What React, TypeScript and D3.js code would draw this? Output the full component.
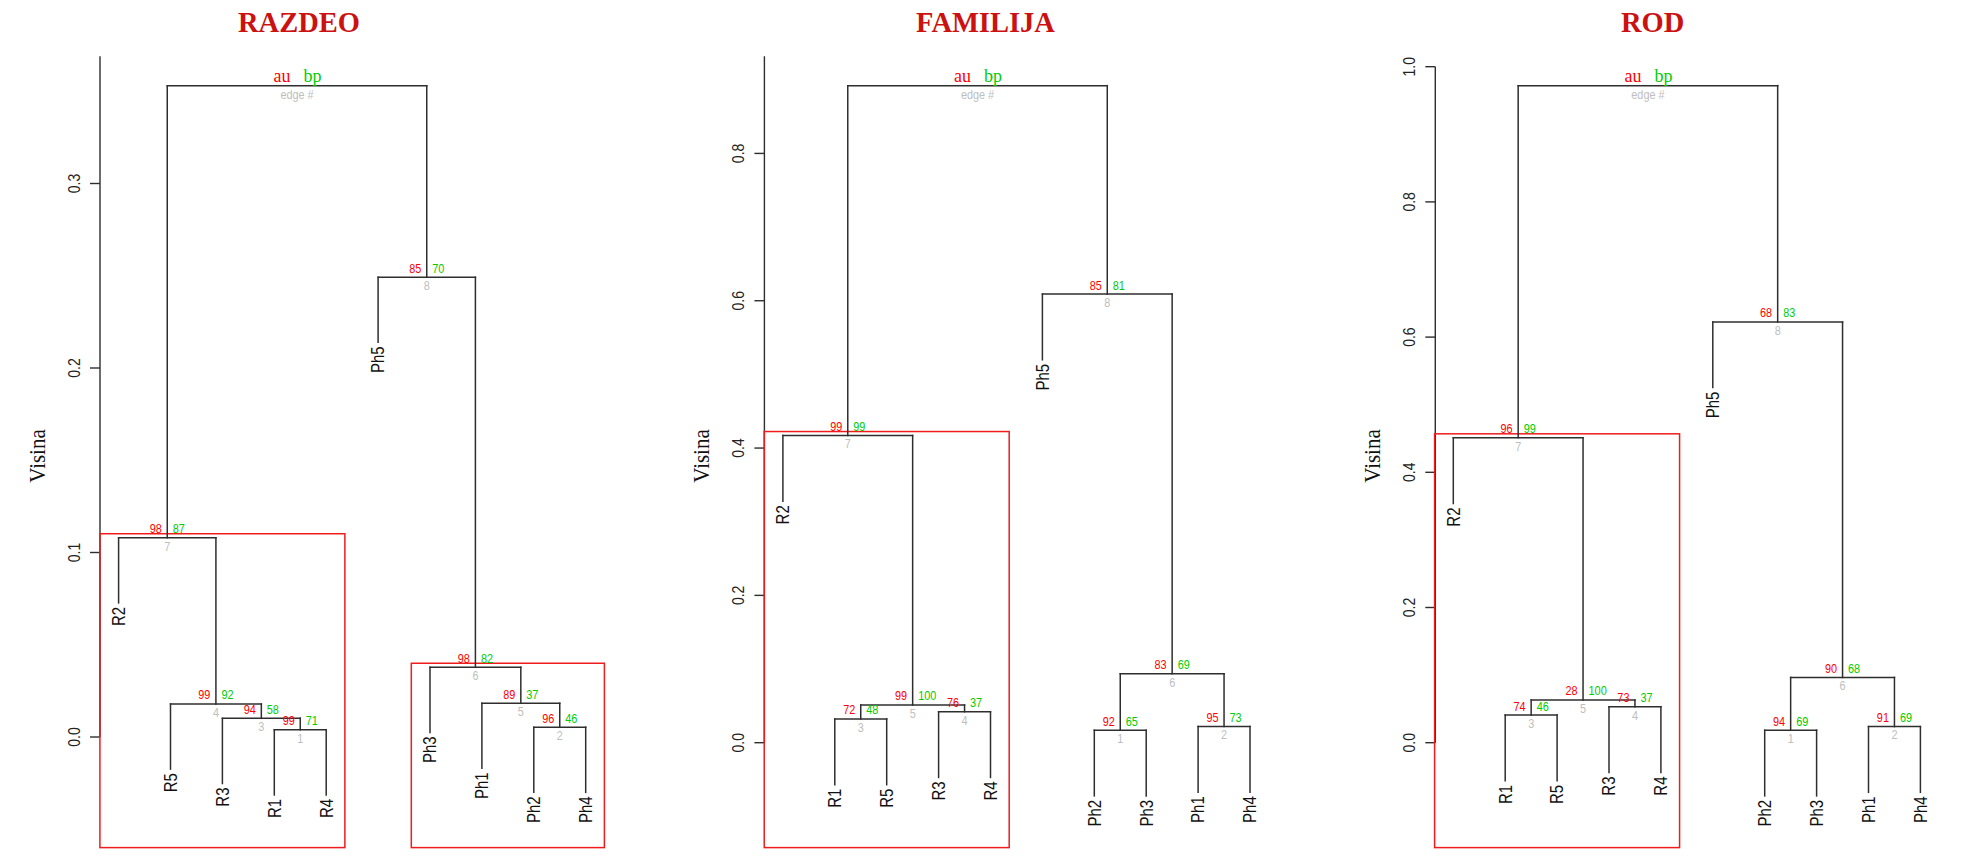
import React from "react";
import * as d3 from "d3";

// ---------- DATA ----------
const titles = ["RAZDEO", "FAMILIJA", "ROD"];

// RAZDEO
const razdeoLeaves = ["R2", "R5", "R3", "R1", "R4", "Ph5", "Ph3", "Ph1", "Ph2", "Ph4"];
const razdeoLeft: (string | number)[] = ["R1", "Ph2", "R3", "R5", "Ph1", "Ph3", "R2", "Ph5", 7];
const razdeoRight: (string | number)[] = ["R4", "Ph4", 1, 3, 2, 5, 4, 6, 8];
const razdeoHeight = [0.0039, 0.0053, 0.0101, 0.0179, 0.0183, 0.0378, 0.108, 0.2492, 0.353];
const razdeoAU = [99, 96, 94, 99, 89, 98, 98, 85];
const razdeoBP = [71, 46, 58, 92, 37, 82, 87, 70];
const razdeoTicks = [0, 0.1, 0.2, 0.3];
const razdeoBoxes = [7, 6];

// FAMILIJA
const familijaLeaves = ["R2", "R1", "R5", "R3", "R4", "Ph5", "Ph2", "Ph3", "Ph1", "Ph4"];
const familijaLeft: (string | number)[] = ["Ph2", "Ph1", "R1", "R3", 3, 1, "R2", "Ph5", 7];
const familijaRight: (string | number)[] = ["Ph3", "Ph4", "R5", "R4", 4, 2, 5, 6, 8];
const familijaHeight = [0.017, 0.0219, 0.0322, 0.042, 0.0512, 0.0935, 0.417, 0.609, 0.892];
const familijaAU = [92, 95, 72, 76, 99, 83, 99, 85];
const familijaBP = [65, 73, 48, 37, 100, 69, 99, 81];
const familijaTicks = [0, 0.2, 0.4, 0.6, 0.8];
const familijaBoxes = [7];

// ROD
const rodLeaves = ["R2", "R1", "R5", "R3", "R4", "Ph5", "Ph2", "Ph3", "Ph1", "Ph4"];
const rodLeft: (string | number)[] = ["Ph2", "Ph1", "R1", "R3", 3, 1, "R2", "Ph5", 7];
const rodRight: (string | number)[] = ["Ph3", "Ph4", "R5", "R4", 4, 2, 5, 6, 8];
const rodHeight = [0.0185, 0.0238, 0.0408, 0.0531, 0.0632, 0.0966, 0.451, 0.6225, 0.972];
const rodAU = [94, 91, 74, 73, 28, 90, 96, 68];
const rodBP = [69, 69, 46, 37, 100, 68, 99, 83];
const rodTicks = [0, 0.2, 0.4, 0.6, 0.8, 1.0];
const rodBoxes = [7];

const axisTopValues = [0.369, 0.932, 1.0];
const yLabel = "Visina";

// ---------- LAYOUT ----------
const layouts = [
  { axisX: 100, leaf0: 118.6, y0: 737, unit: 1845, titleX: 299 },
  { axisX: 764.4, leaf0: 782.9, y0: 742.7, unit: 736.6, titleX: 985.5 },
  { axisX: 1435.3, leaf0: 1453.3, y0: 742.7, unit: 676, titleX: 1652.6 },
];
const leafStep = 51.9;
const plotBottom = 847.6;
const ROT_STRETCH = 1.2;
const NUM_SQUISH = 0.87;

const panels = [
  { leaves: razdeoLeaves, left: razdeoLeft, right: razdeoRight, height: razdeoHeight, au: razdeoAU, bp: razdeoBP, ticks: razdeoTicks, boxes: razdeoBoxes },
  { leaves: familijaLeaves, left: familijaLeft, right: familijaRight, height: familijaHeight, au: familijaAU, bp: familijaBP, ticks: familijaTicks, boxes: familijaBoxes },
  { leaves: rodLeaves, left: rodLeft, right: rodRight, height: rodHeight, au: rodAU, bp: rodBP, ticks: rodTicks, boxes: rodBoxes },
];

const SANS = "'Liberation Sans', Arial, Helvetica, sans-serif";
const SERIF = "'Liberation Serif', 'Times New Roman', serif";
const LINE = "#2e2e2e";
const RED = "#ff0000";
const GREEN = "#00cc00";
const GRAY = "#bebebe";

function Num({ x, y, anchor, fill, children }: any) {
  return (
    <text transform={`translate(${x},${y}) scale(${NUM_SQUISH},1)`} textAnchor={anchor} fill={fill} fontFamily={SANS} fontSize={12.5}>
      {children}
    </text>
  );
}

function Panel({ idx }: { idx: number }) {
  const p = panels[idx];
  const L = layouts[idx];
  const y = d3.scaleLinear().domain([0, 1]).range([L.y0, L.y0 - L.unit]);
  const x = d3.scaleLinear().domain([0, p.leaves.length - 1]).range([L.leaf0, L.leaf0 + (p.leaves.length - 1) * leafStep]);
  const hang = 0.1 * (d3.max(p.height) as number);

  const leafPos: Record<string, number> = {};
  p.leaves.forEach((l, i) => (leafPos[l] = x(i)));
  const leafParentH: Record<string, number> = {};
  const nodeX: number[] = [];
  const nodeSpan: [number, number][] = [];

  const segs: { x1: number; y1: number; x2: number; y2: number }[] = [];
  const getX = (c: string | number) => (typeof c === "number" ? nodeX[c - 1] : leafPos[c]);
  const getSpan = (c: string | number): [number, number] => {
    if (typeof c === "number") return nodeSpan[c - 1];
    const i = p.leaves.indexOf(c);
    return [i, i];
  };

  p.left.forEach((l, i) => {
    const r = p.right[i];
    const h = p.height[i];
    const xl = getX(l);
    const xr = getX(r);
    nodeX[i] = (xl + xr) / 2;
    const sl = getSpan(l), sr = getSpan(r);
    nodeSpan[i] = [Math.min(sl[0], sr[0]), Math.max(sl[1], sr[1])];
    segs.push({ x1: xl, y1: y(h), x2: xr, y2: y(h) });
    [l, r].forEach((c) => {
      const cx = getX(c);
      let ch: number;
      if (typeof c === "number") ch = p.height[c - 1];
      else {
        ch = h - hang;
        leafParentH[c] = h;
      }
      segs.push({ x1: cx, y1: y(h), x2: cx, y2: y(ch) });
    });
  });

  const nRoot = p.height.length;
  const rootX = nodeX[nRoot - 1];
  const rootY = y(p.height[nRoot - 1]);

  return (
    <g>
      <text x={L.titleX} y={31.5} textAnchor="middle" fontFamily={SERIF} fontWeight="bold" fontSize={28.5} fill="#cc1111">
        {titles[idx]}
      </text>
      {/* axis */}
      <line x1={L.axisX} x2={L.axisX} y1={y(0)} y2={y(axisTopValues[idx])} stroke={LINE} strokeWidth={1.4} />
      {p.ticks.map((t) => (
        <g key={t}>
          <line x1={L.axisX - 10} x2={L.axisX} y1={y(t)} y2={y(t)} stroke={LINE} strokeWidth={1.4} />
          <text transform={`translate(${L.axisX - 20},${y(t)}) scale(${ROT_STRETCH},1) rotate(-90)`} textAnchor="middle" fontFamily={SANS} fontSize={14} fill="#222">
            {t.toFixed(1)}
          </text>
        </g>
      ))}
      <text transform={`translate(${L.axisX - 55},456) scale(1.1,1) rotate(-90)`} textAnchor="middle" fontFamily={SERIF} fontSize={21} fill="#111">
        {yLabel}
      </text>
      {/* boxes */}
      {p.boxes.map((b) => {
        const [a, z] = nodeSpan[b - 1];
        const x1 = x(a) - 0.36 * leafStep;
        const x2 = x(z) + 0.36 * leafStep;
        const yt = y(p.height[b - 1]) - 4;
        return <rect key={b} x={x1} y={yt} width={x2 - x1} height={plotBottom - yt} fill="none" stroke="#ee1c1c" strokeWidth={1.5} />;
      })}
      {/* tree */}
      {segs.map((s, i) => (
        <line key={i} x1={s.x1} y1={s.y1} x2={s.x2} y2={s.y2} stroke={LINE} strokeWidth={1.5} strokeLinecap="square" />
      ))}
      {/* leaf labels */}
      {p.leaves.map((l) => (
        <text
          key={l}
          transform={`translate(${leafPos[l]},${y(leafParentH[l] - hang) + 4}) scale(${ROT_STRETCH},1) rotate(-90)`}
          textAnchor="end"
          dy="0.35em"
          fontFamily={SANS}
          fontSize={15}
          fill="#111"
        >
          {l}
        </text>
      ))}
      {/* node labels */}
      {p.au.map((a, i) => {
        const nx = nodeX[i];
        const ny = y(p.height[i]);
        return (
          <g key={i}>
            <Num x={nx - 5.5} y={ny - 4.5} anchor="end" fill={RED}>{a}</Num>
            <Num x={nx + 5.5} y={ny - 4.5} anchor="start" fill={GREEN}>{p.bp[i]}</Num>
            <Num x={nx} y={ny + 12.8} anchor="middle" fill={GRAY}>{i + 1}</Num>
          </g>
        );
      })}
      {/* root header */}
      <text x={rootX - 6.5} y={rootY - 4} textAnchor="end" fontFamily={SERIF} fontSize={18} fill={RED}>au</text>
      <text x={rootX + 6.5} y={rootY - 4} textAnchor="start" fontFamily={SERIF} fontSize={18} fill={GREEN}>bp</text>
      <Num x={rootX} y={rootY + 13} anchor="middle" fill={GRAY}>edge #</Num>
    </g>
  );
}

export default function App() {
  return (
    <svg width={1961} height={863} style={{ position: "absolute", left: 0, top: 0, background: "#fff" }}>
      <rect x={0} y={0} width={1961} height={863} fill="#fff" />
      {panels.map((_, i) => (
        <Panel key={i} idx={i} />
      ))}
    </svg>
  );
}
